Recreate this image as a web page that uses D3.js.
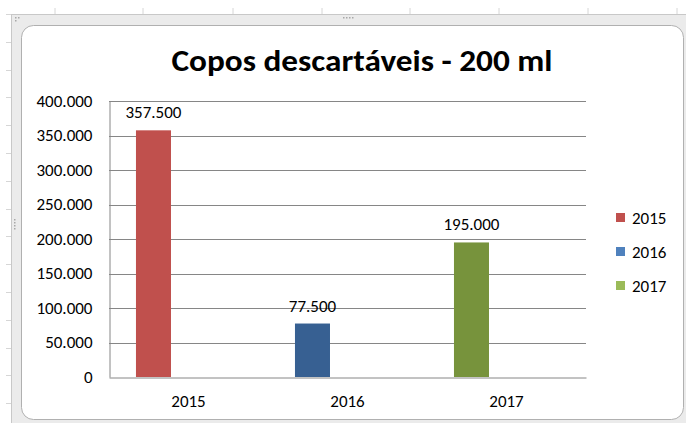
<!DOCTYPE html>
<html lang="pt">
	<head>
		<meta charset="utf-8">
		<title>Copos descartáveis - 200 ml</title>
		<script type="text/javascript" src="https://cdn.jsdelivr.net/npm/d3@7"></script>
		<style type="text/css">
			body { margin: 0; background: #fff; }
			svg { display: block; }
		</style>
	</head>
	<body>
		<script type="text/javascript">

			//Data
			var years = ["2015", "2016", "2017"];
			var amounts = [357500, 77500, 195000];
			var barColors = ["#C0504D", "#376092", "#77933C"];
			var legendColors = ["#C0504D", "#4F81BD", "#9BBB59"];
			var yTicks = [0, 50000, 100000, 150000, 200000, 250000, 300000, 350000, 400000];
			var title = "Copos descartáveis - 200 ml";

			//Width and height
			var w = 686;
			var h = 423;
			var plot = { left: 109, right: 586, top: 101, bottom: 377 };
			var font = "Calibri, Carlito, Lato, sans-serif";
			var labelSize = "17px";

			//Brazilian number format (357.500)
			var ptBR = d3.formatLocale({ decimal: ",", thousands: ".", grouping: [3], currency: ["R$", ""] });
			var fmt = ptBR.format(",");

			var svg = d3.select("body")
						.append("svg")
						.attr("width", w)
						.attr("height", h);

			//Spreadsheet behind the chart
			var colLines = [55, 143, 233, 322, 410, 499, 588, 677];
			var rowLines = d3.range(14, 423, 27.8);
			svg.selectAll(".col")
			   .data(colLines)
			   .enter()
			   .append("line")
			   .attr("x1", function(d) { return d; })
			   .attr("x2", function(d) { return d; })
			   .attr("y1", 8)
			   .attr("y2", 14)
			   .attr("stroke", "#d6d6d6");
			svg.selectAll(".row")
			   .data(rowLines)
			   .enter()
			   .append("line")
			   .attr("x1", 6)
			   .attr("x2", 11)
			   .attr("y1", function(d) { return Math.round(d) + 0.5; })
			   .attr("y2", function(d) { return Math.round(d) + 0.5; })
			   .attr("stroke", "#d6d6d6");

			//Chart frame (selection border)
			svg.append("rect")
			   .attr("x", 11.5)
			   .attr("y", 14.5)
			   .attr("width", 700)
			   .attr("height", 420)
			   .attr("fill", "#ebebeb")
			   .attr("stroke", "#c8c8c8");

			//Chart area with rounded corners
			svg.append("rect")
			   .attr("x", 21.5)
			   .attr("y", 25.5)
			   .attr("width", 662)
			   .attr("height", 394)
			   .attr("rx", 12)
			   .attr("fill", "#ffffff")
			   .attr("stroke", "#b0b0b0");

			//Handle dots
			var dots = [[343, 17], [346, 17], [349, 17], [352, 17], [14, 219], [14, 222], [14, 225], [14, 228], [15, 17], [18, 17], [15, 20]];
			svg.selectAll(".dot")
			   .data(dots)
			   .enter()
			   .append("rect")
			   .attr("x", function(d) { return d[0]; })
			   .attr("y", function(d) { return d[1]; })
			   .attr("width", 1.5)
			   .attr("height", 1.5)
			   .attr("fill", "#a8a8a8");

			//Scales
			var xScale = d3.scaleBand()
						   .domain(years)
						   .range([plot.left, plot.right]);

			var slotScale = d3.scaleBand()
						   .domain([0, 1, 2])
						   .range([0, xScale.bandwidth()])
						   .paddingOuter(0.77);

			var yScale = d3.scaleLinear()
						   .domain([0, 400000])
						   .range([plot.bottom, plot.top]);

			//Gridlines
			svg.selectAll(".grid")
			   .data(yTicks.slice(1))
			   .enter()
			   .append("line")
			   .attr("x1", plot.left)
			   .attr("x2", plot.right)
			   .attr("y1", function(d) { return Math.round(yScale(d)) + 0.5; })
			   .attr("y2", function(d) { return Math.round(yScale(d)) + 0.5; })
			   .attr("stroke", "#868686");

			//Y axis
			var yAxis = d3.axisLeft(yScale)
						  .tickValues(yTicks)
						  .tickFormat(fmt)
						  .tickSize(0)
						  .tickPadding(17);
			var gy = svg.append("g")
						.attr("transform", "translate(" + (plot.left + 0.5) + ",0)")
						.call(yAxis);
			gy.select(".domain").attr("stroke", "#868686");
			gy.selectAll("text")
			  .attr("font-family", font)
			  .attr("font-size", labelSize)
			  .attr("fill", "#000");

			//X axis
			var xAxis = d3.axisBottom(xScale)
						  .tickSize(0)
						  .tickPadding(17);
			var gx = svg.append("g")
						.attr("transform", "translate(0," + (plot.bottom + 0.5) + ")")
						.call(xAxis);
			gx.select(".domain").attr("stroke", "#868686");
			gx.selectAll("text")
			  .attr("font-family", font)
			  .attr("font-size", labelSize)
			  .attr("fill", "#000");

			//Bars
			svg.selectAll(".bar")
			   .data(amounts)
			   .enter()
			   .append("rect")
			   .attr("x", function(d, i) { return xScale(years[i]) + slotScale(0); })
			   .attr("y", function(d) { return yScale(d); })
			   .attr("width", slotScale.bandwidth())
			   .attr("height", function(d) { return plot.bottom - yScale(d); })
			   .attr("fill", function(d, i) { return barColors[i]; });

			//Data labels
			svg.selectAll(".label")
			   .data(amounts)
			   .enter()
			   .append("text")
			   .text(function(d) { return fmt(d); })
			   .attr("x", function(d, i) { return xScale(years[i]) + slotScale(0) + slotScale.bandwidth() / 2; })
			   .attr("y", function(d) { return yScale(d) - 12; })
			   .attr("text-anchor", "middle")
			   .attr("font-family", font)
			   .attr("font-size", labelSize)
			   .attr("fill", "#000");

			//Title
			svg.append("text")
			   .text(title)
			   .attr("x", 362)
			   .attr("y", 71)
			   .attr("text-anchor", "middle")
			   .attr("font-family", font)
			   .attr("font-weight", "bold")
			   .attr("font-size", "30px")
			   .attr("textLength", 381)
			   .attr("lengthAdjust", "spacingAndGlyphs")
			   .attr("fill", "#000");

			//Legend
			var legend = svg.selectAll(".legend")
							.data(years)
							.enter()
							.append("g")
							.attr("transform", function(d, i) { return "translate(616," + (213 + i * 34) + ")"; });
			legend.append("rect")
				  .attr("width", 9)
				  .attr("height", 9)
				  .attr("fill", function(d, i) { return legendColors[i]; });
			legend.append("text")
				  .text(function(d) { return d; })
				  .attr("x", 16)
				  .attr("y", 11)
				  .attr("font-family", font)
				  .attr("font-size", labelSize)
				  .attr("fill", "#000");

		</script>
	</body>
</html>
